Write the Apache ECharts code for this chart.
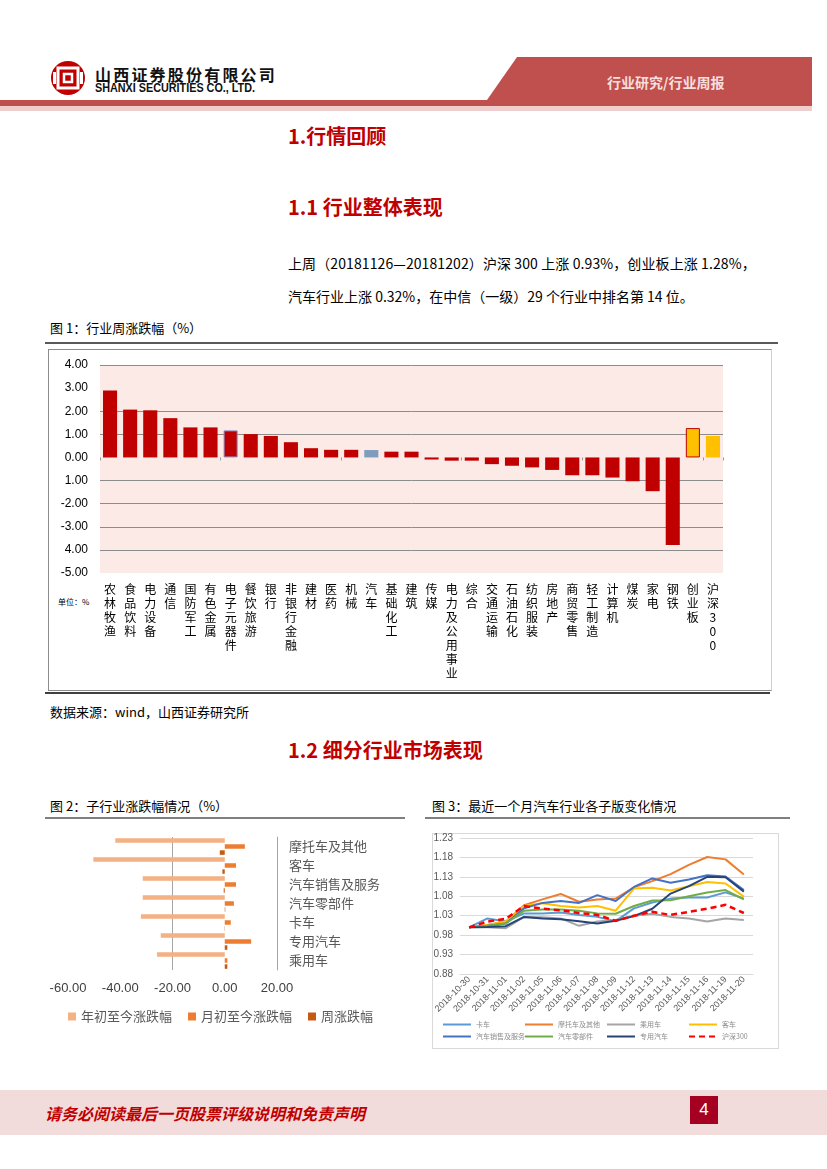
<!DOCTYPE html>
<html><head><meta charset="utf-8">
<script src="https://cdn.jsdelivr.net/npm/echarts@6/dist/echarts.min.js"></script>
<style>
body{margin:0;background:#fff;}
#page{position:relative;width:827px;height:1169px;overflow:hidden;font-family:"Noto Sans CJK SC",sans-serif;background:#fff;}
.abs{position:absolute;white-space:nowrap;}
.h1{color:#C00000;font-weight:bold;font-size:20px;line-height:24px;}
.cap{font-size:13px;line-height:16px;color:#000;}
.para{font-size:14px;line-height:18px;color:#000;}
</style></head><body>
<div id="page">
  <svg class="abs" style="left:0;top:0" width="827" height="120">
    <polygon points="517,57 812,57 812,100 487,100" fill="#C0504D"/>
    <rect x="0" y="100" width="812" height="6" fill="#C0504D"/>
    <rect x="0" y="106" width="812" height="5" fill="#EFCFCE"/>
    <circle cx="68" cy="78" r="17" fill="#C00000"/>
    <rect x="58" y="68" width="20" height="20" fill="none" stroke="#fff" stroke-width="3"/>
    <rect x="64" y="74" width="8" height="8" fill="none" stroke="#fff" stroke-width="2.5"/>
    <rect x="53" y="72" width="3" height="12" fill="#fff"/>
    <rect x="80" y="72" width="3" height="12" fill="#fff"/>
  </svg>
  <div class="abs" style="left:95px;top:62px;font-size:16px;font-weight:bold;letter-spacing:2.2px;color:#111;">山西证券股份有限公司</div>
  <div class="abs" style="left:95px;top:81px;font-size:12px;font-weight:bold;color:#111;font-family:'Liberation Sans',sans-serif;transform:scaleX(0.9);transform-origin:left;">SHANXI SECURITIES CO., LTD.</div>
  <div class="abs" style="left:607px;top:72px;font-size:14px;font-weight:bold;color:#F7DEDE;">行业研究/行业周报</div>

  <div class="abs h1" style="left:288px;top:124px;">1.行情回顾</div>
  <div class="abs h1" style="left:288px;top:195px;">1.1 行业整体表现</div>
  <div class="abs para" style="left:288px;top:254px;letter-spacing:0.1px;">上周（20181126—20181202）沪深 300 上涨 0.93%，创业板上涨 1.28%，</div>
  <div class="abs para" style="left:288px;top:287px;">汽车行业上涨 0.32%，在中信（一级）29 个行业中排名第 14 位。</div>

  <div class="abs cap" style="left:50px;top:320px;">图 1：行业周涨跌幅（%）</div>
  <div class="abs" style="left:45px;top:342px;width:733px;height:2px;background:#595959;"></div>
  <div class="abs" style="left:48px;top:349px;width:722px;height:340px;border:1px solid #8c8c8c;border-right-color:#d0d0d0;"></div>
  <div class="abs" style="left:58px;top:596px;font-size:8px;color:#000;">单位：%</div>
  <div class="abs" style="left:45px;top:692px;width:725px;height:2px;background:#404040;"></div>
  <div class="abs cap" style="left:50px;top:704px;">数据来源：wind，山西证券研究所</div>

  <div class="abs h1" style="left:288px;top:738px;">1.2 细分行业市场表现</div>

  <div class="abs cap" style="left:50px;top:798px;">图 2：子行业涨跌幅情况（%）</div>
  <div class="abs" style="left:45px;top:817px;width:360px;height:2px;background:#7f7f7f;"></div>
  <div class="abs cap" style="left:432px;top:798px;">图 3：最近一个月汽车行业各子版变化情况</div>
  <div class="abs" style="left:425px;top:817px;width:365px;height:2px;background:#7f7f7f;"></div>
  <div class="abs" style="left:432px;top:833px;width:345px;height:214px;border:1px solid #d9d9d9;"></div>

  <div class="abs" style="left:0;top:1090px;width:827px;height:45px;background:#F2DCDB;"></div>
  <div class="abs" style="left:45px;top:1101px;font-size:16px;font-weight:bold;font-style:italic;color:#C00000;">请务必阅读最后一页股票评级说明和免责声明</div>
  <div class="abs" style="left:690px;top:1096px;width:28px;height:28px;background:#A50021;color:#fff;font-size:17px;line-height:28px;text-align:center;font-family:'Liberation Sans',sans-serif;">4</div>

  <div id="chart" class="abs" style="left:0;top:0;width:827px;height:1169px;"></div>
</div>
<script>
// ---- Figure 1: weekly change by industry (%) ----
const industries = ['农林牧渔','食品饮料','电力设备','通信','国防军工','有色金属','电子元器件','餐饮旅游','银行','非银行金融','建材','医药','机械','汽车','基础化工','建筑','传媒','电力及公用事业','综合','交通运输','石油石化','纺织服装','房地产','商贸零售','轻工制造','计算机','煤炭','家电','钢铁','创业板','沪深300'];
const weeklyChange = [2.90,2.07,2.04,1.70,1.30,1.30,1.17,1.01,0.93,0.66,0.40,0.33,0.33,0.32,0.25,0.25,-0.09,-0.14,-0.14,-0.29,-0.36,-0.43,-0.54,-0.77,-0.77,-0.87,-1.03,-1.46,-3.79,1.27,0.93];
const fig1TickLabels = ['-5.00','4.00','-3.00','-2.00','1.00','0.00','1.00','2.00','3.00','4.00'];

// ---- Figure 2: sub-industry change (%) ----
const subIndustries = ['摩托车及其他','客车','汽车销售及服务','汽车零部件','卡车','专用汽车','乘用车'];
const ytdChange = [-41.9,-50.3,-31.4,-31.4,-32.1,-24.5,-25.9];
const mtdChange = [7.7,4.3,4.3,3.5,2.3,10.1,1.0];
const wtdChange = [-1.9,-0.9,-0.4,0.2,-0.1,1.0,1.0];
const fig2SeriesNames = ['年初至今涨跌幅','月初至今涨跌幅','周涨跌幅'];

// ---- Figure 3: sub-sector index over last month ----
const dates = ['2018-10-30','2018-10-31','2018-11-01','2018-11-02','2018-11-05','2018-11-06','2018-11-07','2018-11-08','2018-11-09','2018-11-12','2018-11-13','2018-11-14','2018-11-15','2018-11-16','2018-11-19','2018-11-20'];
const truck      = [1.000,1.023,1.015,1.036,1.036,1.038,1.032,1.027,1.016,1.049,1.064,1.074,1.077,1.077,1.090,1.074];
const motorcycle = [1.000,1.006,1.015,1.057,1.072,1.086,1.066,1.072,1.074,1.103,1.119,1.137,1.161,1.181,1.175,1.136];
const passenger  = [1.000,1.000,0.998,1.027,1.026,1.023,1.004,1.015,1.019,1.030,1.035,1.027,1.023,1.015,1.023,1.019];
const bus        = [1.000,1.006,1.015,1.055,1.062,1.055,1.051,1.055,1.043,1.100,1.102,1.095,1.106,1.117,1.113,1.079];
const sales      = [1.000,1.004,1.010,1.049,1.063,1.068,1.063,1.083,1.068,1.104,1.126,1.115,1.123,1.134,1.131,1.096];
const parts      = [1.000,1.004,1.010,1.043,1.046,1.046,1.043,1.036,1.035,1.055,1.069,1.070,1.080,1.090,1.096,1.072];
const special    = [1.000,1.001,1.003,1.027,1.023,1.021,1.016,1.010,1.017,1.029,1.048,1.087,1.106,1.130,1.129,1.092];
const hs300      = [1.000,1.015,1.022,1.055,1.048,1.044,1.037,1.032,1.017,1.030,1.040,1.032,1.040,1.048,1.058,1.037];
const fig3Names = ['卡车','摩托车及其他','乘用车','客车','汽车销售及服务','汽车零部件','专用汽车','沪深300'];

const fig1Colors = {'汽车':'#7F9BBE','创业板':'#FFC000','沪深300':'#FFC000'};
const fig1Borders = {'创业板':'#C00000','电子元器件':'#8C8CC8'};
const fig2Colors = ['#F4B183','#ED7D31','#C55A11'];
const fig3Colors = ['#5B9BD5','#ED7D31','#A5A5A5','#FFC000','#4472C4','#70AD47','#264478','#FF0000'];
const fig3Data = [truck,motorcycle,passenger,bus,sales,parts,special,hs300];

const chart = echarts.init(document.getElementById('chart'), null, {renderer:'canvas'});
const CJK = '"Noto Sans CJK SC", sans-serif';
// one legend component per item so that items sit on a fixed 4-column grid
const fig3Legends = fig3Names.map((n,i)=>({
  data:[n], left:442 + 82*(i%4) - 5, top:(i<4?1016:1028), itemWidth:28, itemHeight:8,
  itemStyle:{opacity:0},
  textStyle:{fontSize:7, color:'#8c8c8c'}
}));
const option = {
  animation:false,
  backgroundColor:'transparent',
  textStyle:{fontFamily:CJK},
  grid:[
    {left:100, top:365, width:623, height:208, show:true, backgroundColor:'#FBEAE6', borderWidth:0},
    {left:68, top:837, width:209, height:133},
    {left:460, top:838, width:293, height:136}
  ],
  legend:[
    {data:fig2SeriesNames, left:63, top:1005, icon:'rect', itemWidth:8, itemHeight:8, itemGap:16,
     textStyle:{fontSize:13, color:'#595959'}},
    ...fig3Legends
  ],
  xAxis:[
    {type:'category', gridIndex:0, data:industries, position:'bottom',
     axisLine:{show:false, onZero:false}, axisTick:{show:false},
     axisLabel:{interval:0, margin:9, fontSize:12, lineHeight:14, color:'#000',
       formatter:v=>v.split('').join('\n')}},
    {type:'category', gridIndex:0, data:industries, position:'bottom',
     axisLine:{show:true, onZero:true, lineStyle:{color:'#999', opacity:0}},
     axisTick:{show:true, length:3, lineStyle:{color:'#999'}}, axisLabel:{show:false}},
    {type:'value', gridIndex:1, min:-60, max:20, interval:20,
     axisLine:{show:false}, axisTick:{show:false},
     splitLine:{show:true, lineStyle:{color:['transparent','transparent','#a6a6a6','transparent','transparent']}},
     axisLabel:{formatter:v=>v.toFixed(2), fontSize:13, color:'#404040', margin:12, fontFamily:'"Liberation Sans", sans-serif'}},
    {type:'category', gridIndex:2, data:dates, boundaryGap:true,
     axisLine:{show:true, lineStyle:{color:'#d9d9d9'}}, axisTick:{show:false},
     axisLabel:{interval:0, rotate:45, fontSize:9, color:'#595959', margin:4, fontFamily:'"Liberation Sans", sans-serif'}}
  ],
  yAxis:[
    {type:'value', gridIndex:0, min:-5, max:4, interval:1,
     axisLine:{show:false}, axisTick:{show:false},
     splitLine:{show:true, lineStyle:{color:['transparent','#8c8c8c','#8c8c8c','#8c8c8c','#8c8c8c','transparent','#8c8c8c','#8c8c8c','transparent','#8c8c8c']}},
     axisLabel:{margin:12, fontSize:12, color:'#000', fontFamily:'"Liberation Sans", sans-serif',
       formatter:v=>fig1TickLabels[Math.round(v+5)]}},
    {type:'category', gridIndex:1, data:subIndustries, inverse:true, position:'right',
     axisLine:{show:true, onZero:false, lineStyle:{color:'#a6a6a6'}}, axisTick:{show:false},
     axisLabel:{margin:12, fontSize:13, color:'#595959'}},
    {type:'value', gridIndex:2, min:0.88, max:1.23, interval:0.05,
     axisLine:{show:false}, axisTick:{show:false},
     splitLine:{show:true, lineStyle:{color:'#d9d9d9'}},
     axisLabel:{formatter:v=>v.toFixed(2), fontSize:10, color:'#595959', margin:7, fontFamily:'"Liberation Sans", sans-serif'}}
  ],
  series:[
    {type:'bar', xAxisIndex:0, yAxisIndex:0, barWidth:'70%',
     data:weeklyChange.map((v,i)=>({value:v, itemStyle:{
        color:fig1Colors[industries[i]]||'#C00000',
        borderColor:fig1Borders[industries[i]]||'transparent',
        borderWidth:fig1Borders[industries[i]]?1:0}}))},
    ...[ytdChange,mtdChange,wtdChange].map((d,i)=>({
      name:fig2SeriesNames[i], type:'bar', xAxisIndex:2, yAxisIndex:1,
      barWidth:4.5, barGap:'35%', data:d, itemStyle:{color:fig2Colors[i]}})),
    ...fig3Data.map((d,i)=>({
      name:fig3Names[i], type:'line', xAxisIndex:3, yAxisIndex:2, data:d,
      symbol:'none', smooth:false,
      itemStyle:{color:fig3Colors[i]},
      lineStyle:{color:fig3Colors[i], width:i===7?2.5:2, type:i===7?[6,4]:'solid'}}))
  ]
};
chart.setOption(option);
</script>
</body></html>
